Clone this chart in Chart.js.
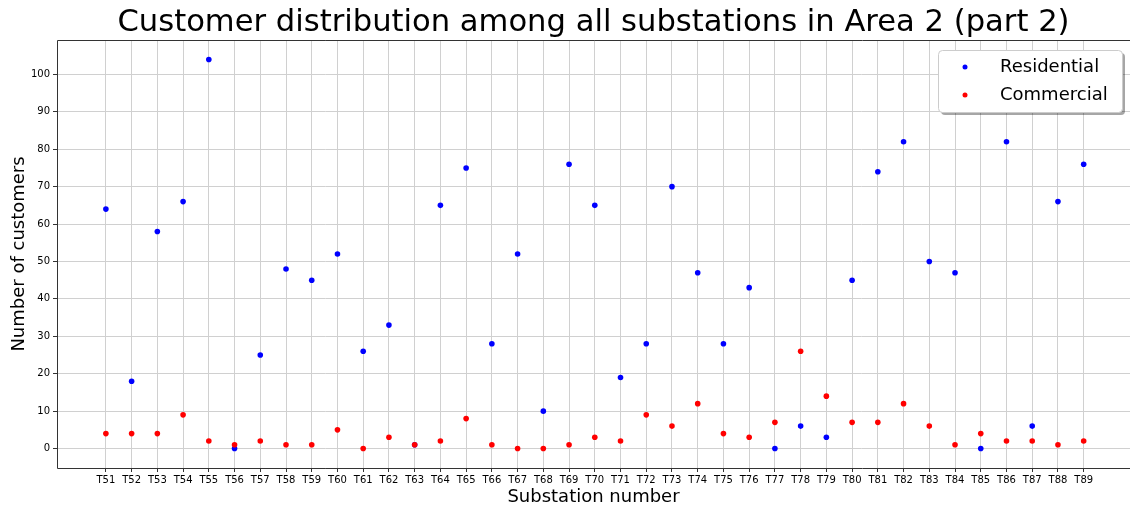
<!DOCTYPE html>
<html>
<head>
<meta charset="utf-8">
<title>Customer distribution - Area 2 (part 2)</title>
<script src="https://cdn.jsdelivr.net/npm/chart.js@4/dist/chart.umd.min.js"></script>
<style>
  html, body { margin: 0; padding: 0; background: #fff; overflow: hidden; }
  #wrap { width: 1130px; height: 511px; }
  canvas { display: block; }
</style>
</head>
<body>
<div id="wrap"><canvas id="chart" width="1130" height="511"></canvas></div>
<script>
const chartTitle = "Customer distribution among all substations in Area 2 (part 2)";

const substations = [
    "T51", "T52", "T53", "T54", "T55", "T56", "T57", "T58", "T59", "T60",
    "T61", "T62", "T63", "T64", "T65", "T66", "T67", "T68", "T69", "T70",
    "T71", "T72", "T73", "T74", "T75", "T76", "T77", "T78", "T79", "T80",
    "T81", "T82", "T83", "T84", "T85", "T86", "T87", "T88", "T89"
];

const residential = [
    64, 18, 58, 66, 104, 0, 25, 48, 45, 52,
    26, 33, 1, 65, 75, 28, 52, 10, 76, 65,
    19, 28, 70, 47, 28, 43, 0, 6, 3, 45,
    74, 82, 50, 47, 0, 82, 6, 66, 76
];

const commercial = [
    4, 4, 4, 9, 2, 1, 2, 1, 1, 5,
    0, 3, 1, 2, 8, 1, 0, 0, 1, 3,
    2, 9, 6, 12, 4, 3, 7, 26, 14, 7,
    7, 12, 6, 1, 4, 2, 2, 1, 2
];

const yTicks = [0, 10, 20, 30, 40, 50, 60, 70, 80, 90, 100];

const FONT = "'DejaVu Sans', sans-serif";

function toPoints(values) {
    return values.map((v, i) => ({ x: i, y: v }));
}

// title centred over the plot area, like matplotlib does
const axesTitle = {
    id: 'axesTitle',
    afterDraw(chart) {
        const { ctx, chartArea } = chart;
        ctx.save();
        ctx.font = `30.6px ${FONT}`;
        ctx.fillStyle = '#000';
        ctx.textAlign = 'center';
        ctx.textBaseline = 'middle';
        ctx.fillText(chartTitle, (chartArea.left + chartArea.right) / 2, 23);
        ctx.restore();
    }
};

// axes spines: left, top and bottom (the right one falls off the page)
const frame = {
    id: 'frame',
    afterDatasetsDraw(chart) {
        const { ctx, chartArea: a } = chart;
        const l = a.left + 0.5, t = a.top + 0.5, b = a.bottom + 0.5;
        ctx.save();
        ctx.strokeStyle = '#333';
        ctx.lineWidth = 1;
        ctx.beginPath();
        ctx.moveTo(a.right + 2, t);
        ctx.lineTo(l, t);
        ctx.lineTo(l, b);
        ctx.lineTo(a.right + 2, b);
        ctx.stroke();
        ctx.restore();
    }
};

// legend box in the upper right corner of the plot
const cornerLegend = {
    id: 'cornerLegend',
    afterDraw(chart) {
        const { ctx, chartArea: a } = chart;
        const w = 184, h = 62;
        const x = a.right - w - 8, y = a.top + 10;
        ctx.save();
        // shadow
        ctx.fillStyle = 'rgba(0,0,0,0.35)';
        roundRect(ctx, x + 3, y + 3, w, h, 4);
        ctx.fill();
        ctx.fillStyle = '#fff';
        ctx.strokeStyle = '#cccccc';
        ctx.lineWidth = 1;
        roundRect(ctx, x + 0.5, y + 0.5, w, h, 4);
        ctx.fill();
        ctx.stroke();
        ctx.font = `18px ${FONT}`;
        ctx.textBaseline = 'middle';
        ctx.textAlign = 'left';
        chart.data.datasets.forEach((ds, i) => {
            const cy = y + 17 + i * 28;
            ctx.fillStyle = ds.backgroundColor;
            ctx.beginPath();
            ctx.arc(x + 27, cy, 2.5, 0, Math.PI * 2);
            ctx.fill();
            ctx.fillStyle = '#000';
            ctx.fillText(ds.label, x + 62, cy);
        });
        ctx.restore();
    }
};

function roundRect(ctx, x, y, w, h, r) {
    ctx.beginPath();
    ctx.moveTo(x + r, y);
    ctx.lineTo(x + w - r, y);
    ctx.quadraticCurveTo(x + w, y, x + w, y + r);
    ctx.lineTo(x + w, y + h - r);
    ctx.quadraticCurveTo(x + w, y + h, x + w - r, y + h);
    ctx.lineTo(x + r, y + h);
    ctx.quadraticCurveTo(x, y + h, x, y + h - r);
    ctx.lineTo(x, y + r);
    ctx.quadraticCurveTo(x, y, x + r, y);
    ctx.closePath();
}

const yMax = Math.max(...residential, ...commercial);
const yPad = yMax * 0.05;

new Chart(document.getElementById('chart'), {
    type: 'scatter',
    data: {
        datasets: [
            {
                label: 'Residential',
                data: toPoints(residential),
                backgroundColor: '#0000ff',
                pointRadius: 2.8,
                pointBorderWidth: 0,
                order: 1
            },
            {
                label: 'Commercial',
                data: toPoints(commercial),
                backgroundColor: '#ff0000',
                pointRadius: 2.8,
                pointBorderWidth: 0,
                order: 0
            }
        ]
    },
    options: {
        responsive: false,
        animation: false,
        layout: { autoPadding: false, padding: { top: 40, right: 0, bottom: 0, left: 0 } },
        plugins: {
            legend: { display: false },
            title: { display: false },
            tooltip: { enabled: false }
        },
        scales: {
            x: {
                type: 'linear',
                min: -1.9,
                max: substations.length - 1 + 1.8,
                afterBuildTicks: axis => { axis.ticks = substations.map((_, i) => ({ value: i })); },
                afterFit: scale => {
                    scale.height = 43;
                    scale.paddingLeft = 0;
                    scale.paddingRight = 0;
                },
                ticks: {
                    autoSkip: false,
                    maxRotation: 0,
                    padding: 2,
                    color: '#000',
                    font: { family: FONT, size: 10 },
                    callback: v => substations[v]
                },
                grid: { color: '#d0d0d0', lineWidth: 1, tickLength: 4, tickColor: '#333' },
                border: { display: false },
                title: {
                    display: true,
                    text: 'Substation number',
                    color: '#000',
                    font: { family: FONT, size: 18 },
                    padding: { top: 0, bottom: 3 }
                }
            },
            y: {
                min: -yPad,
                max: yMax + yPad,
                afterBuildTicks: axis => { axis.ticks = yTicks.map(v => ({ value: v })); },
                afterFit: scale => {
                    scale.width = 57;
                    scale.paddingTop = 0;
                    scale.paddingBottom = 0;
                },
                ticks: {
                    padding: 3,
                    color: '#000',
                    font: { family: FONT, size: 10 }
                },
                grid: { color: '#d0d0d0', lineWidth: 1, tickLength: 4, tickColor: '#333' },
                border: { display: false },
                title: {
                    display: true,
                    text: 'Number of customers',
                    color: '#000',
                    font: { family: FONT, size: 18 },
                    padding: { top: 9, bottom: 0 }
                }
            }
        }
    },
    plugins: [axesTitle, frame, cornerLegend]
});
</script>
</body>
</html>
